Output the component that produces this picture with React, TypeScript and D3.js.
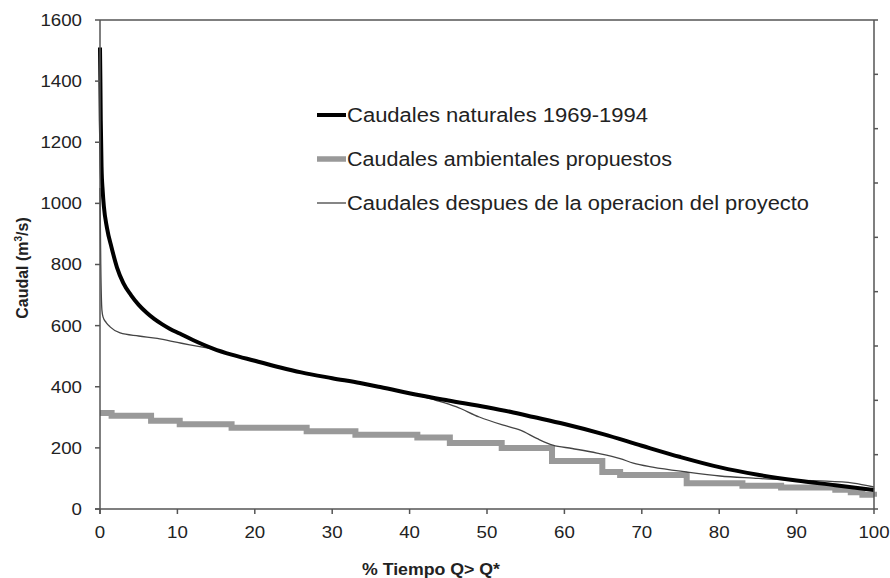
import React from "react";
import * as d3 from "d3";

const naturalX = [0, 0.05, 0.1, 0.2, 0.35, 0.5, 0.9, 1.5, 2.2, 3, 4, 5, 6, 7, 8, 9, 10.3, 12, 14.6, 17, 20, 23.3, 26, 30, 33.6, 36.2, 41.3, 45, 50, 53, 56, 60, 65, 70, 75, 80, 85, 90, 95, 100];
const naturalY = [1510, 1400, 1270, 1120, 1040, 990, 920, 855, 790, 740, 700, 668, 643, 622, 605, 590, 574, 553, 525, 505, 485, 463, 447, 428, 412, 399, 372, 355, 333, 318, 301, 278, 245, 207, 170, 137, 112, 93, 78, 62];

const ambientalX = [0, 1.5, 6.6, 10.3, 17, 26.7, 33, 41, 45.2, 51.9, 58.4, 64.9, 67.2, 75.8, 83, 88, 95, 97, 98.5, 100];
const ambientalY = [314, 305, 289, 277, 266, 254, 243, 234, 216, 200, 157, 121, 111, 84, 76, 70, 63, 55, 47, 40];

const despuesX = [0, 0.1, 0.25, 0.4, 0.8, 1.3, 2.6, 5, 7.4, 10, 11.6, 13.8, 15, 17, 20, 23.3, 26, 30, 33.6, 36.2, 41.3, 43.5, 46, 49, 52, 54.3, 56.5, 58.5, 61, 64.2, 67.2, 68.9, 71.4, 75.8, 80.1, 84.4, 88.7, 93, 97.3, 100];
const despuesY = [1050, 800, 650, 628, 610, 596, 576, 566, 558, 545, 537, 527, 520, 505, 485, 463, 447, 428, 412, 399, 370, 355, 335, 301, 275, 258, 230, 209, 198, 183, 165, 150, 137, 121, 108, 101, 95, 92, 85, 72];

const yTicks = [0, 200, 400, 600, 800, 1000, 1200, 1400, 1600];
const xTicks = [0, 10, 20, 30, 40, 50, 60, 70, 80, 90, 100];
const rightTicks = [0, 1, 2, 3, 4, 5, 6, 7, 8, 9];

const legendLabels = [
  "Caudales naturales 1969-1994",
  "Caudales ambientales propuestos",
  "Caudales despues de la operacion del proyecto",
];

export default function App() {
  const left = 100, right = 874, top = 20, bottom = 509;
  const x = d3.scaleLinear().domain([0, 100]).range([left, right]);
  const y = d3.scaleLinear().domain([0, 1600]).range([bottom, top]);
  const yR = d3.scaleLinear().domain([0, 9]).range([bottom, top]);

  const mono = d3.line<[number, number]>().x(d => x(d[0])).y(d => y(d[1])).curve(d3.curveMonotoneX);
  const step = d3.line<[number, number]>().x(d => x(d[0])).y(d => y(d[1])).curve(d3.curveStepAfter);

  const nat = naturalX.map((v, i) => [v, naturalY[i]] as [number, number]);
  const amb = ambientalX.map((v, i) => [v, ambientalY[i]] as [number, number]);
  const des = despuesX.map((v, i) => [v, despuesY[i]] as [number, number]);

  const font = "'Liberation Sans', Arial, sans-serif";
  const axisColor = "#555";
  const textColor = "#222";

  const legendRows = [
    { label: legendLabels[0], color: "#000", width: 4, y: 115, len: 301 },
    { label: legendLabels[1], color: "#999", width: 5.5, y: 159, len: 325 },
    { label: legendLabels[2], color: "#444", width: 1.3, y: 203, len: 462 },
  ];

  return (
    <svg width={890} height={578} style={{ position: "absolute", left: 0, top: 0, background: "#fff" }} fontFamily={font}>
      <rect x={0} y={0} width={890} height={578} fill="#fff" />
      <path d={step(amb) ?? ""} fill="none" stroke="#999" strokeWidth={6} />
      <path d={mono(des) ?? ""} fill="none" stroke="#444" strokeWidth={1.3} />
      <path d={mono(nat) ?? ""} fill="none" stroke="#000" strokeWidth={4} />

      <line x1={left} x2={right} y1={top} y2={top} stroke={axisColor} strokeWidth={1.5} />
      <line x1={right} x2={right} y1={top} y2={bottom} stroke={axisColor} strokeWidth={1.5} />
      <line x1={left} x2={left} y1={top} y2={bottom + 5} stroke={axisColor} strokeWidth={1.5} />
      <line x1={left - 5} x2={right} y1={bottom} y2={bottom} stroke={axisColor} strokeWidth={1.5} />

      {yTicks.map(t => (
        <g key={"y" + t}>
          <line x1={left - 5} x2={left} y1={y(t)} y2={y(t)} stroke={axisColor} strokeWidth={1.5} />
          <text x={left - 18} y={y(t)} dy="0.35em" textAnchor="end" fontSize={17} fill={textColor}
            transform={`translate(${(left - 18) * -0.1},0) scale(1.1,1)`}>{t}</text>
        </g>
      ))}
      {rightTicks.map(t => (
        <line key={"r" + t} x1={right} x2={right + 4} y1={yR(t)} y2={yR(t)} stroke={axisColor} strokeWidth={1.5} />
      ))}
      {xTicks.map(t => (
        <g key={"x" + t}>
          <line x1={x(t)} x2={x(t)} y1={bottom} y2={bottom + 5} stroke={axisColor} strokeWidth={1.5} />
          <text x={x(t)} y={532} dy="0.35em" textAnchor="middle" fontSize={17} fill={textColor}
            transform={`translate(${x(t) * -0.1},0) scale(1.1,1)`}>{t}</text>
        </g>
      ))}

      <text x={362} y={569} dy="0.35em" fontSize={16} fontWeight="bold" fill={textColor}
        textLength={138} lengthAdjust="spacingAndGlyphs">% Tiempo Q&gt; Q*</text>
      <text transform={`translate(22,268) rotate(-90)`} dy="0.35em" textAnchor="middle" fontSize={16} fontWeight="bold" fill={textColor}>
        Caudal (m<tspan dy="-6" fontSize={10}>3</tspan><tspan dy="6">/s)</tspan>
      </text>

      {legendRows.map(r => (
        <g key={r.label}>
          <line x1={317} x2={346} y1={r.y} y2={r.y} stroke={r.color} strokeWidth={r.width} />
          <text x={347} y={r.y} dy="0.35em" fontSize={20} fill={textColor}
            textLength={r.len} lengthAdjust="spacingAndGlyphs">{r.label}</text>
        </g>
      ))}
    </svg>
  );
}
